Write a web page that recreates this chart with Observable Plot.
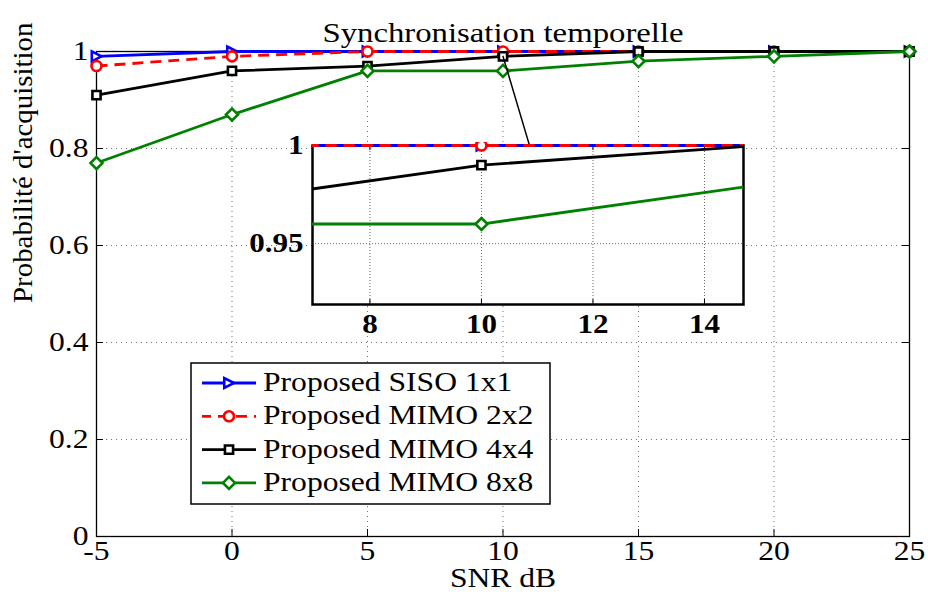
<!DOCTYPE html>
<html><head><meta charset="utf-8">
<script src="https://cdn.jsdelivr.net/npm/d3@7"></script>
<script src="https://cdn.jsdelivr.net/npm/@observablehq/plot@0.6"></script>
<style>
html,body{margin:0;padding:0;background:#fff;}
#chart{position:relative;width:928px;height:599px;overflow:hidden;}
#chart svg{position:absolute;}
</style></head><body><div id="chart"></div>
<script>
// ---- data ----
const snr = [-5, 0, 5, 10, 15, 20, 25];
const siso1x1 = [0.99, 1, 1, 1, 1, 1, 1];
const mimo2x2 = [0.97, 0.99, 1, 1, 1, 1, 1];
const mimo4x4 = [0.91, 0.96, 0.97, 0.99, 1, 1, 1];
const mimo8x8 = [0.77, 0.87, 0.96, 0.96, 0.98, 0.99, 1];
const seriesNames = ["Proposed SISO 1x1", "Proposed MIMO 2x2", "Proposed MIMO 4x4", "Proposed MIMO 8x8"];
const seriesValues = [siso1x1, mimo2x2, mimo4x4, mimo8x8];
const xTicks = [-5, 0, 5, 10, 15, 20, 25];
const yTicks = [0, 0.2, 0.4, 0.6, 0.8, 1];
const yTickLabels = ["0", "0.2", "0.4", "0.6", "0.8", "1"];
const titleText = "Synchronisation temporelle";
const xLabel = "SNR dB";
const yLabel = "Probabilité d'acquisition";
// zoomed inset
const insetXDomain = [6.97, 14.7];
const insetYDomain = [0.919, 1];
const insetXTicks = [8, 10, 12, 14];
const insetYTicks = [0.95, 1];
const insetYTickLabels = ["0.95", "1"];
// pointer from the main curve to the inset
const pointerX = [10, 10.98];
const pointerY = [0.99, 0.806];

// ---- styles ----
const W = 928, H = 599;
const mL = 96, mR = 19, mT = 51, mB = 63;
const fw = W - mL - mR, fh = H - mT - mB;
const font = "'Liberation Serif','Times New Roman',Times,serif";
const triRight = {draw(ctx, size) {
  const h = Math.sqrt(size) * 0.56;
  ctx.moveTo(h, 0); ctx.lineTo(-h * 0.95, -h); ctx.lineTo(-h * 0.95, h); ctx.closePath();
}};
const styles = [
  {stroke: "#0000ff", dash: null, symbol: triRight, r: 5},
  {stroke: "#ff0000", dash: "11,7", symbol: d3.symbolCircle, r: 5},
  {stroke: "#000000", dash: null, symbol: d3.symbolSquare, r: 4.6},
  {stroke: "#008000", dash: null, symbol: d3.symbolDiamond2, r: 5.4}
];
const markerStroke = 2.6;

function seriesMarks(extra) {
  const out = [];
  seriesValues.forEach((vals, k) => {
    const s = styles[k];
    const data = snr.map((x, i) => ({x, y: vals[i]}));
    const lineOpts = {x: "x", y: "y", stroke: s.stroke, strokeWidth: 2.8, ...extra};
    if (s.dash) { lineOpts.strokeDasharray = s.dash; lineOpts.strokeLinecap = "butt"; }
    out.push(Plot.line(data, lineOpts));
    out.push(Plot.dot(data, {x: "x", y: "y", stroke: s.stroke, fill: "white", strokeWidth: markerStroke, r: s.r, symbol: s.symbol, ...extra}));
  });
  return out;
}

const grid = {stroke: "#000", strokeOpacity: 0.55, strokeWidth: 1, strokeDasharray: "1,4"};
const pointer = pointerX.map((x, i) => ({x, y: pointerY[i]}));

const main = Plot.plot({
  width: W, height: H,
  marginLeft: mL, marginRight: mR, marginTop: mT, marginBottom: mB,
  style: {fontFamily: font, fontSize: "27px", background: "white", color: "black", overflow: "visible"},
  x: {domain: [xTicks[0], xTicks[xTicks.length - 1]], ticks: xTicks, tickFormat: d => String(d), tickSize: 0, tickPadding: 4, label: null},
  y: {domain: [yTicks[0], yTicks[yTicks.length - 1]], ticks: yTicks, tickFormat: d => yTickLabels[yTicks.indexOf(d)], tickSize: 0, tickPadding: 8, label: null},
  marks: [
    Plot.ruleX(xTicks, {x: d => d, ...grid}),
    Plot.ruleY(yTicks, {y: d => d, ...grid}),
    Plot.frame({stroke: "black", strokeWidth: 1.3}),
    Plot.ruleX(xTicks, {x: d => d, insetTop: fh - 7, stroke: "black"}),
    Plot.ruleX(xTicks, {x: d => d, insetBottom: fh - 7, stroke: "black"}),
    Plot.ruleY(yTicks, {y: d => d, insetRight: fw - 7, stroke: "black"}),
    Plot.ruleY(yTicks, {y: d => d, insetLeft: fw - 7, stroke: "black"}),
    ...seriesMarks({}),
    Plot.line(pointer, {x: "x", y: "y", stroke: "black", strokeWidth: 1.5}),
    Plot.text([titleText], {text: d => d, frameAnchor: "top", dy: -29, fontSize: 28}),
    Plot.text([xLabel], {text: d => d, frameAnchor: "bottom", dy: 50, fontSize: 27}),
    Plot.text([yLabel], {text: d => d, frameAnchor: "left", dx: -73, dy: 9, rotate: -90, fontSize: 27})
  ]
});
main.style.left = "0px"; main.style.top = "0px";
document.getElementById("chart").appendChild(main);

// legend
const lg = d3.select(main).append("g").attr("font-family", font).attr("font-size", 27).attr("text-anchor", "start");
lg.append("rect").attr("x", 191).attr("y", 363).attr("width", 359).attr("height", 141)
  .attr("fill", "white").attr("stroke", "black").attr("stroke-width", 1.5);
seriesNames.forEach((name, k) => {
  const s = styles[k];
  const y = 383 + k * 33.3;
  const ln = lg.append("line").attr("x1", 202).attr("x2", 256).attr("y1", y).attr("y2", y)
    .attr("stroke", s.stroke).attr("stroke-width", 2.8);
  if (s.dash) ln.attr("stroke-dasharray", s.dash).attr("stroke-dashoffset", 2);
  lg.append("path").attr("d", d3.symbol().type(s.symbol).size(Math.PI * s.r * s.r)())
    .attr("transform", `translate(229,${y})`).attr("fill", "white").attr("stroke", s.stroke).attr("stroke-width", markerStroke);
  lg.append("text").attr("x", 263).attr("y", y + 8).attr("fill", "black").attr("text-anchor", "start").text(name);
});

// inset
const iL = 70, iR = 10, iT = 20, iB = 42;
const iFrame = {left: 312, top: 145, right: 743, bottom: 304};
const iW = iFrame.right - iFrame.left + iL + iR, iH = iFrame.bottom - iFrame.top + iT + iB;
const ifw = iW - iL - iR, ifh = iH - iT - iB;
const igrid = {stroke: "#000", strokeOpacity: 0.6, strokeWidth: 1, strokeDasharray: "1,2"};
const inset = Plot.plot({
  width: iW, height: iH, marginLeft: iL, marginRight: iR, marginTop: iT, marginBottom: iB,
  style: {fontFamily: font, fontSize: "27px", fontWeight: "bold", background: "transparent", overflow: "visible"},
  x: {domain: insetXDomain, ticks: insetXTicks, tickFormat: d => String(d), tickSize: 0, tickPadding: 9, label: null},
  y: {domain: insetYDomain, ticks: insetYTicks, tickFormat: d => insetYTickLabels[insetYTicks.indexOf(d)], tickSize: 0, tickPadding: 9, label: null},
  marks: [
    Plot.frame({fill: "white", stroke: "none"}),
    Plot.ruleX(insetXTicks, {x: d => d, ...igrid}),
    Plot.ruleY(insetYTicks, {y: d => d, ...igrid}),
    Plot.frame({stroke: "black", strokeWidth: 2.5}),
    Plot.ruleX(insetXTicks, {x: d => d, insetTop: ifh - 5, stroke: "black"}),
    Plot.ruleX(insetXTicks, {x: d => d, insetBottom: ifh - 5, stroke: "black"}),
    ...seriesMarks({clip: true})
  ]
});
inset.style.left = (iFrame.left - iL) + "px";
inset.style.top = (iFrame.top - iT) + "px";
document.getElementById("chart").appendChild(inset);
// let the lines lying on the inset's top edge keep their full width
inset.querySelectorAll("clipPath rect").forEach(r => {
  const y = +r.getAttribute("y"), h = +r.getAttribute("height");
  r.setAttribute("y", y - 3); r.setAttribute("height", h + 3);
});

// widen text slightly to match the reference typeface proportions
function stretch(root, factorFor) {
  root.querySelectorAll("text").forEach(t => {
    const L = t.getComputedTextLength();
    if (L > 0) {
      t.setAttribute("textLength", (L * factorFor(t)).toFixed(2));
      t.setAttribute("lengthAdjust", "spacingAndGlyphs");
    }
  });
}
stretch(main, t => t.textContent === yLabel ? 1.07 : 1.17);
stretch(inset, t => 1.15);
</script></body></html>
